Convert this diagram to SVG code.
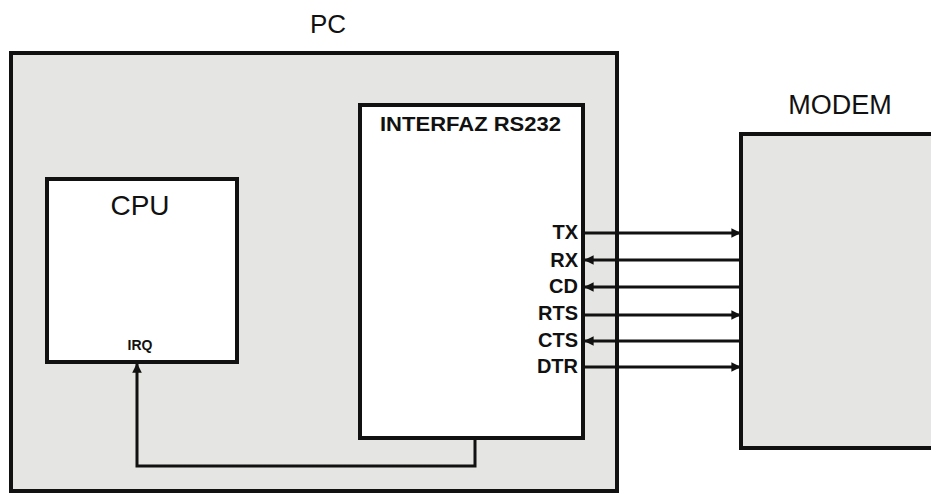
<svg xmlns="http://www.w3.org/2000/svg" width="931" height="493" viewBox="0 0 931 493">
<style>
.box{stroke:#111;stroke-width:4;}
.gray{fill:#e5e5e3;}
.white{fill:#ffffff;}
.t{font-family:"Liberation Sans",Arial,sans-serif;fill:#111;}
.sig{font-family:"Liberation Sans",Arial,sans-serif;font-weight:bold;font-size:20px;fill:#111;text-anchor:end;}
.ln{stroke:#111;stroke-width:3;fill:none;}
</style>
<defs>
<marker id="ah" viewBox="0 0 10 10" refX="9" refY="5" markerWidth="3.2" markerHeight="3.2" orient="auto" markerUnits="strokeWidth">
<path d="M0,0 L10,5 L0,10 Z" fill="#111"/>
</marker>
</defs>
<rect width="931" height="493" fill="#fff"/>
<g id="pc">
<rect class="box gray" x="11" y="53" width="606" height="438"/>
<text class="t" x="328" y="33" font-size="26" text-anchor="middle">PC</text>
</g>
<g id="cpu">
<rect class="box white" x="47" y="179" width="190" height="183"/>
<text class="t" x="140" y="215" font-size="28" text-anchor="middle">CPU</text>
<text class="t" x="140" y="350" font-size="14" font-weight="bold" text-anchor="middle">IRQ</text>
</g>
<g id="interfaz">
<rect class="box white" x="360" y="105" width="223" height="333"/>
<text class="t" x="380" y="131" font-size="21" font-weight="bold" textLength="181" lengthAdjust="spacingAndGlyphs">INTERFAZ RS232</text>
<text class="sig" x="578" y="239">TX</text>
<text class="sig" x="578" y="267">RX</text>
<text class="sig" x="578" y="293">CD</text>
<text class="sig" x="578" y="320">RTS</text>
<text class="sig" x="578" y="347">CTS</text>
<text class="sig" x="578" y="373">DTR</text>
</g>
<g id="modem">
<rect class="box gray" x="741" y="134" width="200" height="314"/>
<text class="t" x="840" y="114" font-size="27" text-anchor="middle">MODEM</text>
</g>
<g id="connectors">
<line class="ln" x1="584" y1="233" x2="740" y2="233" marker-end="url(#ah)"/>
<line class="ln" x1="740" y1="260" x2="585" y2="260" marker-end="url(#ah)"/>
<line class="ln" x1="740" y1="287" x2="585" y2="287" marker-end="url(#ah)"/>
<line class="ln" x1="584" y1="315" x2="740" y2="315" marker-end="url(#ah)"/>
<line class="ln" x1="740" y1="341" x2="585" y2="341" marker-end="url(#ah)"/>
<line class="ln" x1="584" y1="367" x2="740" y2="367" marker-end="url(#ah)"/>
<polyline class="ln" points="475,440 475,466 137,466 137,364" marker-end="url(#ah)"/>
</g>
</svg>
